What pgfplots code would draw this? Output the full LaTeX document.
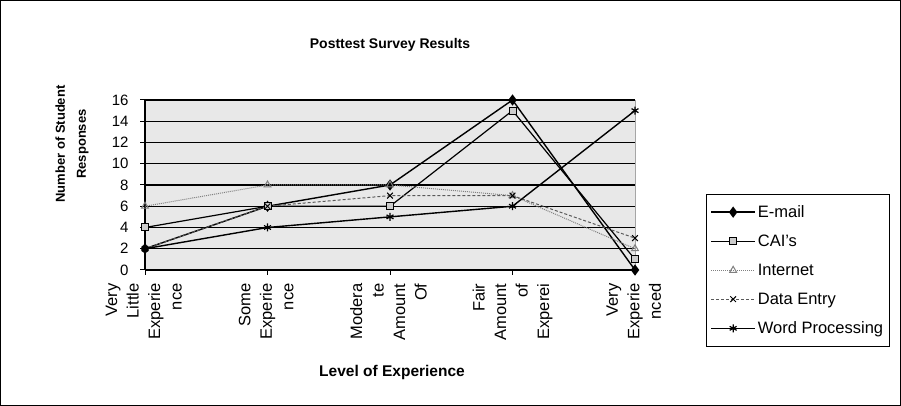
\documentclass[border=0pt]{standalone}
\usepackage{pgfplots}
\pgfplotsset{compat=1.18}
\usepackage{fontspec}
\setmainfont{Liberation Sans}
\newcommand{\tl}[1]{\begin{tabular}{@{}r@{}}#1\end{tabular}}
\begin{document}
\begin{tikzpicture}[x=1pt,y=1pt]
\useasboundingbox (0,0) rectangle (901,406);
\draw[line width=1pt] (0.5,0.5) rectangle (900.5,405.5);
\begin{axis}[
  at={(145pt,136pt)}, anchor=south west,
  scale only axis, width=490pt, height=170pt,
  xmin=0, xmax=4, ymin=0, ymax=16,
  clip=false,
  axis lines=left,
  axis line style={-, line width=1.2pt, black},
  xtick={0,1,2,3,4},
  xticklabels={{\tl{Very\\Little\\Experie\\nce}},{\tl{Some\\Experie\\nce}},{\tl{Modera\\te\\Amount\\Of}},{\tl{Fair\\Amount\\of\\Experei}},{\tl{Very\\Experie\\nced}}},
  xticklabel style={rotate=90, anchor=east, font=\fontsize{16.5}{21.5}\selectfont, xshift=-5pt},
  ytick={0,2,...,16},
  yticklabel style={font=\fontsize{15}{16}\selectfont, xshift=-8pt},
  /pgf/number format/assume math mode=true,
  tick align=outside, major tick length=5pt,
  tick style={black, line width=1pt},
  ymajorgrids, grid style={black, line width=1.3pt},
  axis background/.style={fill=gray!18, draw=gray!70},
  legend style={at={(1.145,0.447)}, anchor=north west, draw=black, line width=0.8pt,
    font=\fontsize{16.5}{18}\selectfont, row sep=12pt, inner xsep=4pt, inner ysep=9pt},
  legend cell align=left,
  legend image code/.code={\draw[mark repeat=2, mark phase=2, #1] plot coordinates {(0pt,0pt)(22pt,0pt)(44pt,0pt)};},
]
\addplot[black, line width=1.4pt, mark=diamond*, mark size=4.5pt, mark options={solid, fill=black}] coordinates {(0,2)(1,6)(2,8)(3,16)(4,0)};
\addlegendentry{E-mail}
\addplot[black, line width=1.2pt, mark=square*, mark size=3.5pt, mark options={solid, fill=gray!40, line width=1pt}] coordinates {(0,4)(1,6)(2,6)(3,15)(4,1)};
\addlegendentry{CAI's}
\addplot[gray, line width=1pt, densely dotted, mark=triangle, mark size=4pt, mark options={solid, gray}] coordinates {(0,6)(1,8)(2,8)(3,7)(4,2)};
\addlegendentry{Internet}
\addplot[black!65, line width=1pt, densely dashed, mark=x, mark size=4pt, mark options={solid, black}] coordinates {(0,2)(1,6)(2,7)(3,7)(4,3)};
\addlegendentry{Data Entry}
\addplot[black, line width=1.4pt, mark=asterisk, mark size=4pt, mark options={solid, line width=1.2pt}] coordinates {(0,2)(1,4)(2,5)(3,6)(4,15)};
\addlegendentry{Word Processing}
\end{axis}
\node[font=\bfseries\fontsize{14}{16}\selectfont] at (390,361) {Posttest Survey Results};
\node[font=\bfseries\fontsize{13}{21}\selectfont, rotate=90, align=center] at (72,262) {Number of Student\\Responses};
\node[font=\bfseries\fontsize{15.5}{16}\selectfont] at (392,34) {Level of Experience};
\end{tikzpicture}
\end{document}
